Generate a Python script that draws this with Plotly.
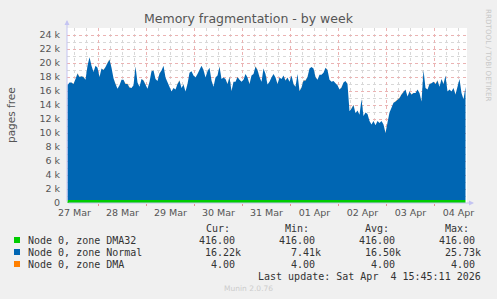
import plotly.graph_objects as go
import pandas as pd

# ---------------- data ----------------
times = pd.date_range("2026-03-27 08:30", periods=200, freq="h")

normal_k = [
    16.4, 16.8, 16.8, 16.6, 17.3, 18.1, 17.6, 17.7, 17.6, 17.2,
    19.2, 20.4, 19.2, 18.3, 19.2, 18.9, 17.6, 18.8, 18.6, 19.0,
    19.6, 20.1, 18.9, 17.4, 16.6, 15.9, 16.4, 17.2, 17.2, 16.6,
    16.6, 16.1, 16.0, 16.4, 19.1, 16.8, 16.2, 17.3, 17.1, 16.6,
    15.9, 16.9, 18.4, 18.5, 17.3, 17.0, 18.1, 18.5, 19.2, 17.5,
    16.9, 16.2, 15.5, 16.0, 15.8, 16.6, 17.1, 16.0, 16.5, 15.5,
    16.6, 18.2, 18.4, 17.8, 17.5, 18.0, 18.6, 19.2, 18.6, 17.5,
    18.4, 18.9, 17.1, 16.2, 17.5, 17.8, 19.1, 17.3, 17.5, 17.3,
    16.6, 17.6, 15.6, 16.9, 16.9, 17.6, 17.2, 16.9, 17.2, 18.0,
    17.5, 16.6, 17.8, 18.0, 19.1, 18.6, 17.6, 16.9, 18.8, 18.0,
    16.5, 16.9, 17.5, 18.0, 17.5, 16.6, 17.5, 17.3, 17.8, 17.1,
    17.5, 16.9, 17.8, 16.6, 16.2, 18.0, 15.6, 16.1, 17.1, 17.1,
    17.6, 18.8, 19.0, 18.8, 17.6, 17.2, 17.9, 17.9, 18.2, 18.9,
    18.6, 17.2, 16.9, 17.0, 16.7, 16.4, 15.8, 16.1, 16.8, 17.0,
    16.6, 12.7, 13.1, 13.6, 12.4, 12.8, 12.2, 14.4, 12.0, 12.5,
    12.3, 11.3, 10.8, 11.3, 10.7, 11.3, 11.0, 11.3, 10.8, 9.6,
    11.1, 12.5, 13.2, 13.9, 14.1, 14.4, 14.6, 15.1, 15.5, 15.8,
    14.8, 15.5, 15.1, 15.3, 15.3, 15.8, 15.3, 14.1, 18.6, 16.0,
    15.8, 16.6, 16.7, 16.9, 16.6, 17.1, 16.2, 17.3, 16.6, 17.8,
    15.5, 15.8, 15.5, 16.0, 15.1, 16.2, 17.3, 15.3, 14.4, 16.2,
]
normal = [v * 1000 for v in normal_k]
dma32 = [416] * len(times)
dma = [4] * len(times)

series_names = ["Node 0, zone DMA32", "Node 0, zone Normal", "Node 0, zone DMA"]
series_colors = ["#00CC00", "#0066B3", "#FF8000"]

day_ticks = pd.date_range("2026-03-27 12:00", periods=9, freq="D")
day_labels = ["27 Mar", "28 Mar", "29 Mar", "30 Mar", "31 Mar",
              "01 Apr", "02 Apr", "03 Apr", "04 Apr"]
y_ticks = list(range(0, 24001, 2000))
y_labels = ["0"] + [f"{v // 1000} k" for v in y_ticks[1:]]

legend_cur = ["416.00", "16.22k", "4.00"]
legend_min = ["416.00", "7.41k", "4.00"]
legend_avg = ["416.00", "16.50k", "4.00"]
legend_max = ["416.00", "25.73k", "4.00"]
last_update = "Last update: Sat Apr\u00a0\u00a04 15:45:11 2026"

# ---------------- layout geometry (pixels) ----------------
W, H = 497, 299
L, R, T, B = 67, 30, 28, 96
PW, PH = W - L - R, H - T - B


def px(x):
    return (x - L) / PW


def py(y):
    return (H - B - y) / PH


x_start = pd.Timestamp("2026-03-27 08:15")
x_end = x_start + pd.Timedelta(hours=PW / 2)

fig = go.Figure()
for vals, name, col in zip([dma32, normal, dma], series_names, series_colors):
    fig.add_trace(go.Scatter(
        x=times, y=vals, name=name, mode="lines",
        stackgroup="one", line=dict(width=0, color=col),
        fillcolor=col, hoverinfo="skip", showlegend=False,
    ))

tick_font = dict(family="DejaVu Sans", size=9.5, color="#555555")
major_grid = "#EBB3B3"
minor_grid = "#D8D8D8"

fig.update_layout(
    width=W, height=H,
    margin=dict(l=L, r=R, t=T, b=B, pad=0),
    paper_bgcolor="#F0F0F0",
    plot_bgcolor="#FFFFFF",
    showlegend=False,
    title=dict(text="Memory fragmentation - by week", x=0.5, xanchor="center",
               y=1 - 19 / H, yanchor="middle",
               font=dict(family="DejaVu Sans", size=12.5, color="#555555")),
    xaxis=dict(
        type="date", range=[x_start, x_end],
        tickmode="array", tickvals=day_ticks, ticktext=day_labels,
        showgrid=False, zeroline=False, showline=False,
        ticks="", tickfont=tick_font, ticklabelstandoff=2,
        minor=dict(showgrid=True, dtick=6 * 3600 * 1000,
                   tick0="2026-03-27 00:00", gridcolor=minor_grid,
                   griddash="dot", gridwidth=1),
    ),
    xaxis2=dict(
        type="date", range=[x_start, x_end], overlaying="x", anchor="y",
        side="bottom",
        tickmode="linear", dtick=24 * 3600 * 1000, tick0="2026-03-28 00:00",
        showgrid=True, gridcolor=major_grid, griddash="dot", gridwidth=1,
        showticklabels=False, ticks="outside", ticklen=2,
        tickcolor="#E89090", zeroline=False, showline=False,
    ),
    yaxis=dict(
        range=[0, 25000], tickmode="array", tickvals=y_ticks,
        ticktext=y_labels, showgrid=True, gridcolor=major_grid,
        griddash="dot", gridwidth=1, zeroline=False, showline=False,
        ticks="", tickfont=tick_font, ticklabelstandoff=6,
        minor=dict(showgrid=True, dtick=1000, gridcolor=minor_grid,
                   griddash="dot", gridwidth=1),
    ),
)

# invisible helper trace so the overlaid day-boundary axis renders
fig.add_trace(go.Scatter(x=[x_start], y=[0], xaxis="x2", mode="markers",
                         marker=dict(opacity=0), hoverinfo="skip",
                         showlegend=False))

ann = []
axis_col = "#C4C4F2"
# axis arrows
ann.append(dict(x=px(L), y=py(20), xref="paper", yref="paper", text="",
                showarrow=True, ax=0, ay=183, arrowhead=2, arrowsize=1,
                arrowwidth=1, arrowcolor=axis_col))
ann.append(dict(x=px(474), y=py(H - B), xref="paper", yref="paper", text="",
                showarrow=True, ax=-407, ay=0, arrowhead=2, arrowsize=1,
                arrowwidth=1, arrowcolor=axis_col))

# y-axis title
ann.append(dict(x=px(11), y=py(115), xref="paper", yref="paper",
                text="pages free", textangle=-90, showarrow=False,
                xanchor="center", yanchor="middle",
                font=dict(family="DejaVu Sans", size=10.5, color="#555555")))
# rrdtool credit
ann.append(dict(x=px(488), y=py(55), xref="paper", yref="paper",
                text="RRDTOOL / TOBI OETIKER", textangle=90, showarrow=False,
                xanchor="center", yanchor="middle",
                font=dict(family="DejaVu Sans", size=7.2, color="#C8C8C8")))

mono = dict(family="DejaVu Sans Mono", size=10, color="#333333")
# headers
for text, xr in zip(["Cur:", "Min:", "Avg:", "Max:"], [231.5, 311.3, 391.3, 470.7]):
    ann.append(dict(x=px(xr), y=py(228), xref="paper", yref="paper", text=text,
                    showarrow=False, xanchor="right", yanchor="middle", font=mono))

row_y = [240, 252, 264]
col_right = [237.3, 317.3, 397.3, 476.7]
shapes = []
for i, (name, col) in enumerate(zip(series_names, series_colors)):
    yc = row_y[i]
    shapes.append(dict(type="rect", xref="paper", yref="paper",
                       x0=px(14), x1=px(20), y0=py(yc - 3), y1=py(yc + 3),
                       fillcolor=col, line=dict(width=0)))
    ann.append(dict(x=px(26), y=py(yc), xref="paper", yref="paper",
                    text=name.replace(" ", "\u00a0"), showarrow=False,
                    xanchor="left", yanchor="middle", font=mono))
    for colvals, xr in zip([legend_cur, legend_min, legend_avg, legend_max], col_right):
        t = colvals[i]
        xx = xr + (6 if t.endswith("k") else 0)
        ann.append(dict(x=px(xx), y=py(yc), xref="paper", yref="paper", text=t,
                        showarrow=False, xanchor="right", yanchor="middle",
                        font=mono))

ann.append(dict(x=px(482.7), y=py(276), xref="paper", yref="paper",
                text=last_update, showarrow=False, xanchor="right",
                yanchor="middle", font=mono))
ann.append(dict(x=px(248), y=py(288), xref="paper", yref="paper",
                text="Munin 2.0.76", showarrow=False, xanchor="center",
                yanchor="middle",
                font=dict(family="DejaVu Sans", size=7.5, color="#CCCCCC")))

fig.update_layout(annotations=ann, shapes=shapes)
fig.write_html("out.html")
